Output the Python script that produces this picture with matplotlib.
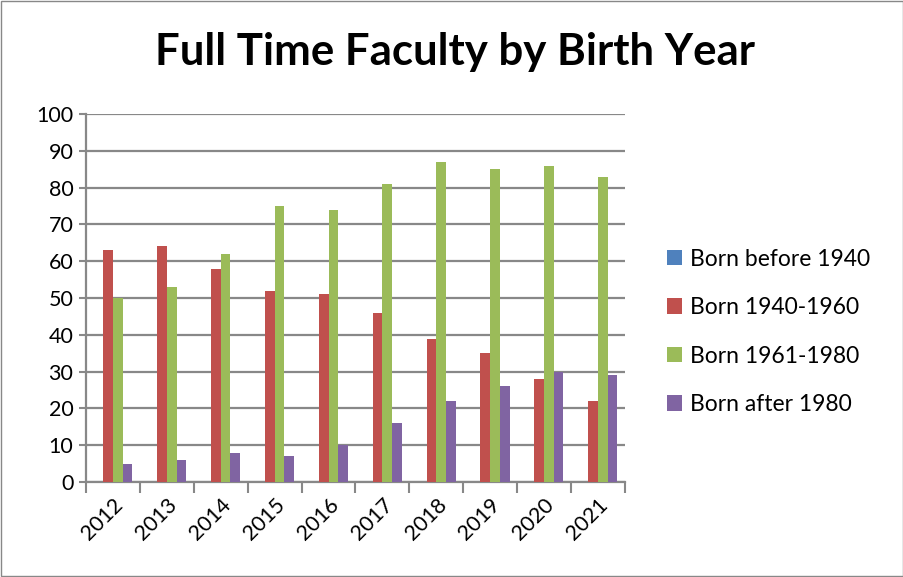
import matplotlib
matplotlib.use("Agg")
import matplotlib.pyplot as plt
import numpy as np

years = ['2012', '2013', '2014', '2015', '2016', '2017', '2018', '2019', '2020', '2021']
before_1940 = [0, 0, 0, 0, 0, 0, 0, 0, 0, 0]
b1940_1960 = [63, 64, 58, 52, 51, 46, 39, 35, 28, 22]
b1961_1980 = [50, 53, 62, 75, 74, 81, 87, 85, 86, 83]
after_1980 = [5, 6, 8, 7, 10, 16, 22, 26, 30, 29]

labels = ['Born before 1940', 'Born 1940-1960', 'Born 1961-1980', 'Born after 1980']
colors = ['#4f81bd', '#c0504d', '#9bbb59', '#8064a2']
series = [before_1940, b1940_1960, b1961_1980, after_1980]

plt.rcParams['font.family'] = ['Lato', 'DejaVu Sans']
fig = plt.figure(figsize=(9.04, 5.77), dpi=100)
ax = fig.add_axes([0.0951, 0.1646, 0.5962, 0.6378])

x = np.arange(len(years))
w = 0.18
for k, (s, c, lab) in enumerate(zip(series, colors, labels)):
    ax.bar(x + (k - 1.5) * w, s, w, color=c, label=lab, zorder=3)

ax.set_xlim(-0.5, len(years) - 0.5)
ax.set_ylim(0, 100)
ax.set_yticks(range(0, 101, 10))
ax.tick_params(axis='y', labelsize=15.5, length=5, width=1.5, color='#888888', pad=4)
ax.set_xticks(x)
ax.set_xticklabels(years, rotation=45, ha='right', va='top', rotation_mode='anchor')
ax.tick_params(axis='x', which='major', length=0, labelsize=15.5, pad=9)
ax.set_xticks(np.arange(-0.5, len(years)), minor=True)
ax.tick_params(axis='x', which='minor', length=8, width=1.5, color='#888888')
ax.grid(axis='y', color='#888888', lw=1.6, zorder=0)
for sp in ['top', 'right']:
    ax.spines[sp].set_visible(False)
for sp in ['left', 'bottom']:
    ax.spines[sp].set_color('#888888')
    ax.spines[sp].set_linewidth(1.6)

fig.text(0.503, 0.91, 'Full Time Faculty by Birth Year', ha='center', va='center',
         fontsize=31.5, fontweight='bold')
fig.legend(loc='center left', bbox_to_anchor=(0.715, 0.425), frameon=False,
           fontsize=16.5, handlelength=0.65, handleheight=0.65, labelspacing=1.2,
           handletextpad=0.35)

fig.patches.append(plt.Rectangle((0.001, 0.001), 0.998, 0.998, transform=fig.transFigure,
                                 fill=False, edgecolor='#888888', lw=1))
fig.savefig('out.png', dpi=100)
